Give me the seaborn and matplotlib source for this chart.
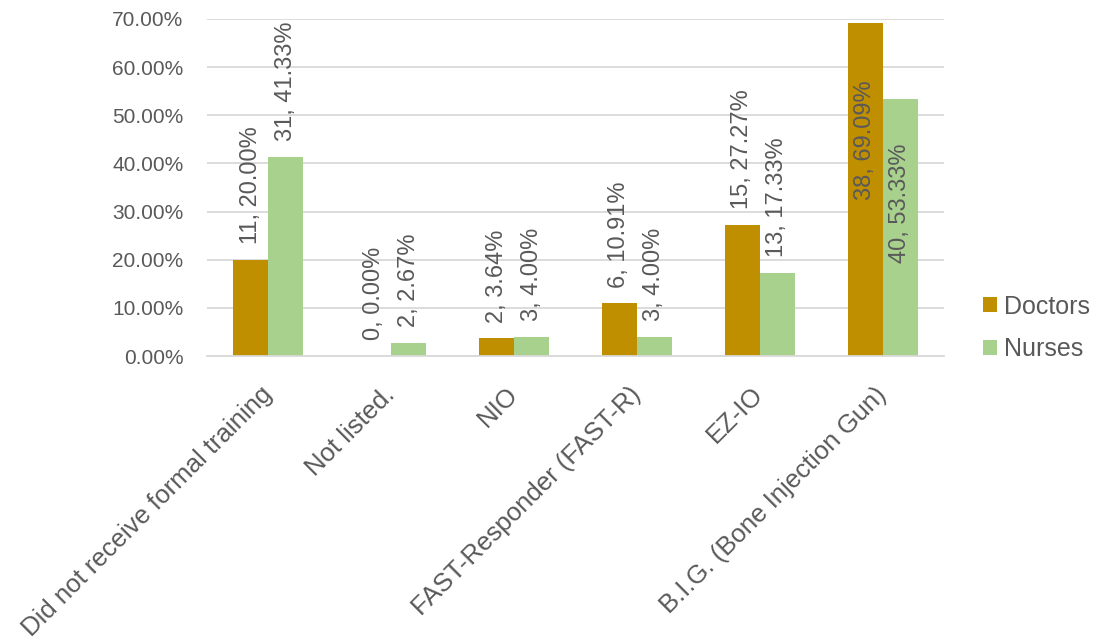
import matplotlib
matplotlib.use("Agg")
import matplotlib.pyplot as plt
import seaborn as sns
import pandas as pd
import numpy as np
from matplotlib.ticker import FuncFormatter, FixedLocator
from matplotlib.patches import Patch

categories = ["Did not receive formal training", "Not listed.", "NIO",
              "FAST-Responder (FAST-R)", "EZ-IO", "B.I.G. (Bone Injection Gun)"]
series = ["Doctors", "Nurses"]
doctors_counts = [11, 0, 2, 6, 15, 38]
doctors_pct = [20.00, 0.00, 3.64, 10.91, 27.27, 69.09]
nurses_counts = [31, 2, 3, 3, 13, 40]
nurses_pct = [41.33, 2.67, 4.00, 4.00, 17.33, 53.33]
y_ticks = [0, 10, 20, 30, 40, 50, 60, 70]

colors = {"Doctors": "#BF8F00", "Nurses": "#A9D18E"}
text_color = "#595959"
grid_color = "#D9D9D9"

df = pd.DataFrame({
    "category": categories * 2,
    "series": ["Doctors"] * len(categories) + ["Nurses"] * len(categories),
    "pct": doctors_pct + nurses_pct,
    "count": doctors_counts + nurses_counts,
})

sns.set_theme(style="white")
plt.rcParams["font.family"] = ["Liberation Sans", "DejaVu Sans"]

fig = plt.figure(figsize=(11, 6.41), dpi=100)
ax = fig.add_axes([207 / 1100, 1 - 356 / 641, (944 - 207) / 1100, (356 - 19) / 641])

sns.barplot(data=df, x="category", y="pct", hue="series", order=categories,
            hue_order=series, palette=colors, width=0.57, gap=0,
            saturation=1, ax=ax, legend=False, edgecolor="none")

ax.set_ylim(0, 70)
ax.set_xlim(-0.5, len(categories) - 0.5)
ax.yaxis.set_major_locator(FixedLocator(y_ticks))
ax.yaxis.set_major_formatter(FuncFormatter(lambda v, p: f"{v:.2f}%"))
ax.grid(axis="y", color=grid_color, linewidth=1.3)
ax.set_axisbelow(True)
for s in ["top", "right", "left"]:
    ax.spines[s].set_visible(False)
ax.spines["bottom"].set_color(grid_color)
ax.spines["bottom"].set_linewidth(1.3)
ax.set_xlabel("")
ax.set_ylabel("")
ax.tick_params(axis="y", length=0, labelsize=15, labelcolor=text_color, pad=17)

# category boundary ticks
ax.set_xticks(np.arange(len(categories)))
ax.set_xticks(np.arange(-0.5, len(categories), 1.0), minor=True)
ax.tick_params(axis="x", which="major", length=0, pad=25)
ax.tick_params(axis="x", which="minor", length=7, color=grid_color, width=1.3)
ax.set_xticklabels(categories, rotation=45, ha="right", va="center",
                   rotation_mode="anchor", fontsize=18.5, color=text_color)

# data labels
counts = {"Doctors": doctors_counts, "Nurses": nurses_counts}
pcts = {"Doctors": doctors_pct, "Nurses": nurses_pct}
for cont, s in zip(ax.containers, series):
    for i, bar in enumerate(cont):
        label = f"{counts[s][i]}, {pcts[s][i]:.2f}%"
        x = bar.get_x() + bar.get_width() / 2
        h = bar.get_height()
        if h > 50:
            off = -41 if s == "Doctors" else -32
            ax.annotate(label, (x, h), xytext=(0, off), textcoords="offset points",
                        rotation=90, ha="center", va="top", fontsize=17,
                        color=text_color)
        else:
            ax.annotate(label, (x, h), xytext=(0, 11.5), textcoords="offset points",
                        rotation=90, ha="center", va="bottom", fontsize=17,
                        color=text_color)

handles = [Patch(facecolor=colors[s], edgecolor="none") for s in series]
fig.legend(handles, series, loc="center left", bbox_to_anchor=(978 / 1100, 1 - 328 / 641),
           frameon=False, fontsize=18, labelcolor=text_color, handlelength=0.55,
           handleheight=0.55, handletextpad=0.3, labelspacing=0.75, borderpad=0.0,
           borderaxespad=0.2)

fig.savefig("out.png", dpi=100)
